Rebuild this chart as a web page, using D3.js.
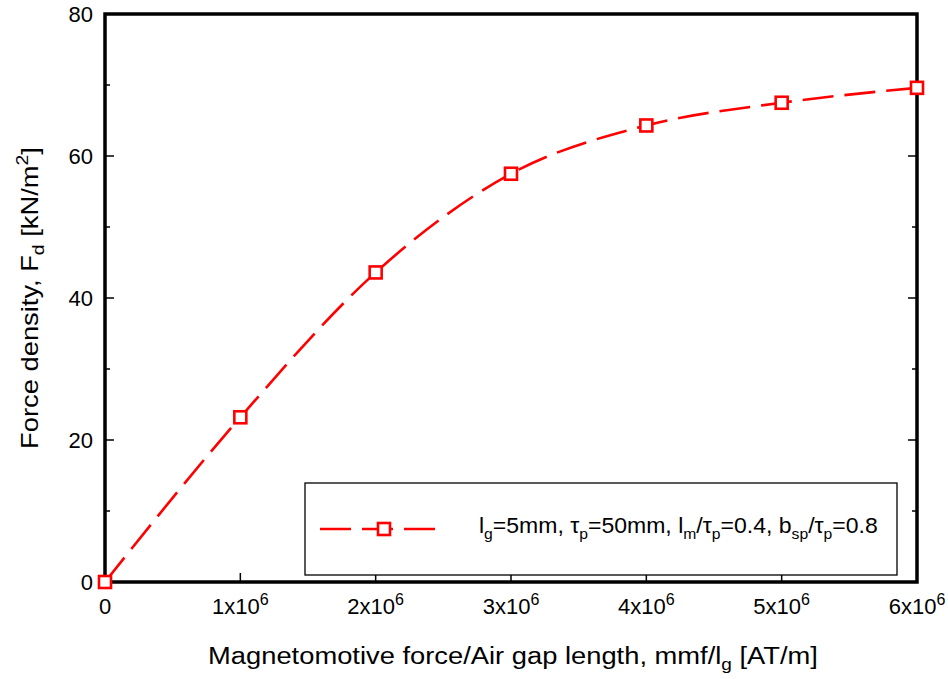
<!DOCTYPE html>
<html><head><meta charset="utf-8">
<script src="https://cdn.jsdelivr.net/npm/d3@7"></script>
<style>body{margin:0;background:#fff}svg{display:block;font-family:"Liberation Sans",Arial,sans-serif}</style>
</head><body>
<svg id="c" width="948" height="679"></svg>
<script>
const xValues = [0, 1e6, 2e6, 3e6, 4e6, 5e6, 6e6];
const yValues = [0, 23.2, 43.6, 57.5, 64.3, 67.5, 69.6];
const xTicks = [0, 1e6, 2e6, 3e6, 4e6, 5e6, 6e6];
const yTicks = [0, 20, 40, 60, 80];
const yMinor = [10, 30, 50, 70];
const seriesColor = "#ff0000";

const svg = d3.select("#c");
const L = 105, R = 917, T = 14, B = 582;
const x = d3.scaleLinear().domain([0, 6e6]).range([L, R]);
const y = d3.scaleLinear().domain([0, 80]).range([B, T]);

const g = svg.append("g");
const tick = (sel, cls, data, x1, x2, y1, y2) => sel.selectAll("." + cls).data(data).enter().append("line")
  .attr("x1", x1).attr("x2", x2).attr("y1", y1).attr("y2", y2)
  .attr("stroke", "#000").attr("stroke-width", 1.5);
tick(g, "xt", xTicks.slice(1, -1), d => x(d), d => x(d), B, B - 9);
tick(g, "yt", yTicks.slice(1, -1), L, L + 9, d => y(d), d => y(d));
tick(g, "ym", yMinor, L, L + 5, d => y(d), d => y(d));
tick(g, "yr", yTicks.slice(1, -1), R, R - 9, d => y(d), d => y(d));
tick(g, "yrm", yMinor, R, R - 5, d => y(d), d => y(d));

// frame
svg.append("rect").attr("x", L).attr("y", T).attr("width", R - L).attr("height", B - T)
  .attr("fill", "none").attr("stroke", "#000").attr("stroke-width", 3.5);

// tick labels
g.selectAll(".yl").data(yTicks).enter().append("text")
  .attr("x", L - 12).attr("y", d => y(d) + 8).attr("text-anchor", "end")
  .attr("font-size", 22).text(d => d);
const xl = g.selectAll(".xl").data(xTicks).enter().append("text")
  .attr("x", d => x(d)).attr("y", B + 32).attr("text-anchor", "middle").attr("font-size", 22);
xl.each(function(d) {
  const t = d3.select(this);
  if (d === 0) { t.text("0"); return; }
  t.append("tspan").text((d / 1e6) + "x10");
  t.append("tspan").attr("dy", -9).attr("font-size", 16).text("6");
});

// axis titles (horizontally widened to match reference)
const xtG = svg.append("g");
const xt = xtG.append("text").attr("x", 0).attr("y", 0).attr("text-anchor", "middle").attr("font-size", 23);
xt.append("tspan").text("Magnetomotive force/Air gap length, mmf/l");
xt.append("tspan").attr("dy", 6).attr("font-size", 16).text("g");
xt.append("tspan").attr("dy", -6).text(" [AT/m]");
const xLen = xt.node().getComputedTextLength();
xtG.attr("transform", `translate(513,664) scale(${610 / xLen},1)`);

const ytG = svg.append("g");
const yt = ytG.append("text").attr("x", 0).attr("y", 0).attr("text-anchor", "middle").attr("font-size", 24);
yt.append("tspan").text("Force density, F");
yt.append("tspan").attr("dy", 6).attr("font-size", 17).text("d");
yt.append("tspan").attr("dy", -6).text(" [kN/m");
yt.append("tspan").attr("dy", -10).attr("font-size", 17).text("2");
yt.append("tspan").attr("dy", 10).text("]");
const yLen = yt.node().getComputedTextLength();
ytG.attr("transform", `translate(38,298) rotate(-90) scale(${302 / yLen},1)`);

// legend box
svg.append("rect").attr("x", 305).attr("y", 483).attr("width", 592).attr("height", 92)
  .attr("fill", "#fff").attr("stroke", "#000").attr("stroke-width", 1.3);

// line
const data = xValues.map((v, i) => [v, yValues[i]]);
const line = d3.line().x(d => x(d[0])).y(d => y(d[1])).curve(d3.curveMonotoneX);
svg.append("path").attr("d", line(data)).attr("fill", "none").attr("stroke", seriesColor)
  .attr("stroke-width", 2.6).attr("stroke-dasharray", "31,11");
svg.selectAll(".m").data(data).enter().append("rect")
  .attr("x", d => x(d[0]) - 6).attr("y", d => y(d[1]) - 6).attr("width", 12).attr("height", 12)
  .attr("fill", "#fff").attr("stroke", seriesColor).attr("stroke-width", 2.6);

// legend entry
svg.append("line").attr("x1", 320).attr("x2", 436).attr("y1", 529).attr("y2", 529)
  .attr("stroke", seriesColor).attr("stroke-width", 2.6).attr("stroke-dasharray", "31,11");
svg.append("rect").attr("x", 378).attr("y", 523).attr("width", 12).attr("height", 12)
  .attr("fill", "#fff").attr("stroke", seriesColor).attr("stroke-width", 2.6);

const ltG = svg.append("g");
const lt = ltG.append("text").attr("x", 0).attr("y", 0).attr("font-size", 22);
const sub = (txt) => { lt.append("tspan").attr("dy", 6).attr("font-size", 15).text(txt); };
const main = (txt) => { lt.append("tspan").attr("dy", -6).text(txt); };
lt.append("tspan").text("l");
sub("g"); main("=5mm, τ");
sub("p"); main("=50mm, l");
sub("m"); main("/τ");
sub("p"); main("=0.4, b");
sub("sp"); main("/τ");
sub("p"); main("=0.8");
const lLen = lt.node().getComputedTextLength();
ltG.attr("transform", `translate(479,533) scale(${399 / lLen},1)`);
</script>
</body></html>
